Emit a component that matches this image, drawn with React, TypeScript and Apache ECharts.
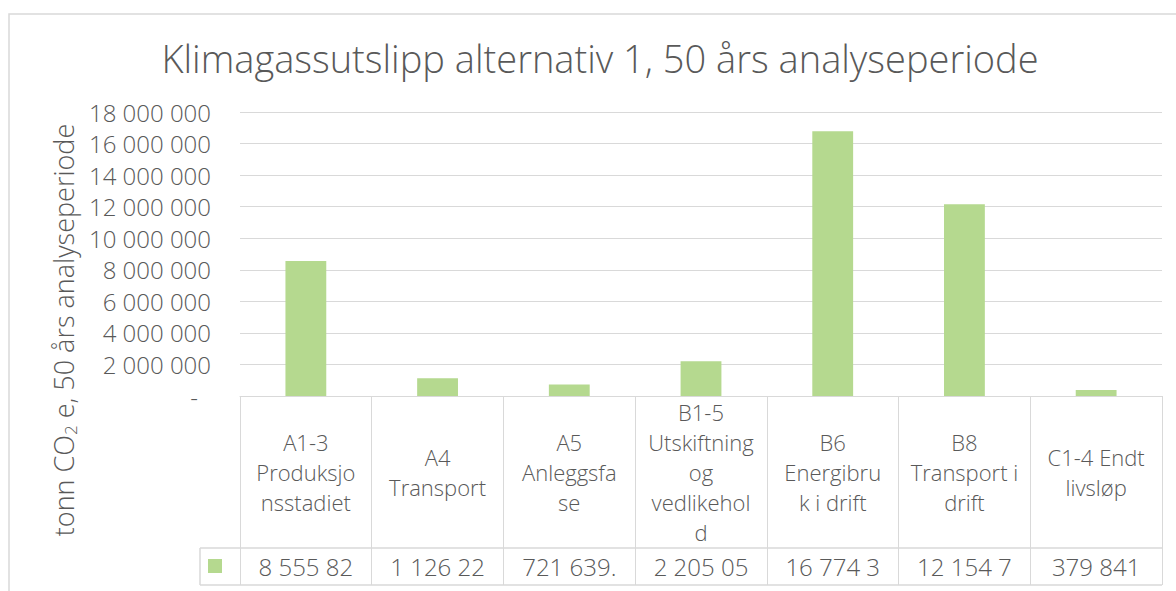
import React, { useEffect, useRef } from "react";
import * as echarts from "echarts";

const title = "Klimagassutslipp alternativ 1, 50 års analyseperiode";
const categories = [
  "A1-3 Produksjonsstadiet",
  "A4 Transport",
  "A5 Anleggsfase",
  "B1-5 Utskiftning og vedlikehold",
  "B6 Energibruk i drift",
  "B8 Transport i drift",
  "C1-4 Endt livsløp",
];
// wrapped as shown in the reference table header
const categoryLabels = [
  "A1-3\nProduksjo\nnsstadiet",
  "A4\nTransport",
  "A5\nAnleggsfa\nse",
  "B1-5\nUtskiftning\nog\nvedlikehol\nd",
  "B6\nEnergibru\nk i drift",
  "B8\nTransport i\ndrift",
  "C1-4 Endt\nlivsløp",
];
const values = [8555824.6, 1126224.3, 721639.4, 2205051.8, 16774320.5, 12154730.2, 379841];
const yTicks = [0, 2000000, 4000000, 6000000, 8000000, 10000000, 12000000, 14000000, 16000000, 18000000];

const BAR = "#b5d98f";
const GRIDC = "#d9d9d9";
const TXT = "#595959";
const FONT = "'Open Sans', 'Noto Sans', sans-serif";
const FW = 300;

const W = 1176;
const H = 591;
const GL = 240; // plot left
const GR = 1162; // plot right
const GT = 112; // plot top
const GB = 396; // plot bottom / table top
const ROW1 = 548; // header row bottom
const ROW2 = 585; // value row bottom
const LEGX = 200; // legend cell left

function spaced(v: number): string {
  const neg = v < 0;
  const a = Math.abs(v);
  const ip = Math.floor(a);
  const frac = a - ip;
  let s = String(ip).replace(/\B(?=(\d{3})+(?!\d))/g, " ");
  if (frac > 1e-9) {
    s += "." + frac.toFixed(6).slice(2).replace(/0+$/, "");
  }
  return (neg ? "-" : "") + s;
}

export default function App() {
  const ref = useRef<HTMLDivElement>(null);
  useEffect(() => {
    if (!ref.current) return;
    const chart = echarts.init(ref.current, null, { renderer: "svg" });
    const step = yTicks[1] - yTicks[0];
    chart.setOption({
      animation: false,
      backgroundColor: "#ffffff",
      textStyle: { fontFamily: FONT, color: TXT, fontWeight: FW },
      grid: { left: GL, right: W - GR, top: GT, bottom: H - GB, containLabel: false },
      xAxis: [
        {
          type: "category",
          data: categories,
          position: "bottom",
          axisLine: { show: true, lineStyle: { color: GRIDC, width: 1 } },
          axisTick: { show: true, length: ROW2 - GB, lineStyle: { color: GRIDC, width: 1 } },
          axisLabel: {
            interval: 0,
            margin: (ROW1 - GB) / 2,
            verticalAlign: "middle",
            align: "center",
            fontSize: 22,
            lineHeight: 30,
            color: TXT,
            fontFamily: FONT,
            fontWeight: FW,
            formatter: (_v: string, i: number) => categoryLabels[i],
          },
          splitLine: { show: false },
        },
        {
          type: "category",
          data: values.map(spaced),
          position: "bottom",
          axisLine: { show: false },
          axisTick: { show: false },
          axisLabel: {
            interval: 0,
            margin: (ROW1 + ROW2) / 2 - GB,
            verticalAlign: "middle",
            align: "center",
            fontSize: 24,
            color: TXT,
            fontFamily: FONT,
            fontWeight: FW,
            width: 100,
            overflow: "truncate",
            ellipsis: "",
          },
        },
      ],
      yAxis: {
        type: "value",
        min: yTicks[0],
        max: yTicks[yTicks.length - 1],
        interval: step,
        axisLine: { show: false },
        axisTick: { show: false },
        splitLine: { show: true, lineStyle: { color: GRIDC, width: 1 } },
        axisLabel: {
          margin: 29,
          fontSize: 24,
          color: TXT,
          fontFamily: FONT,
          fontWeight: FW,
          formatter: (v: number) => (v === 0 ? "{z|-}" : spaced(v)),
          rich: { z: { fontSize: 24, color: TXT, fontFamily: FONT, fontWeight: FW, padding: [0, 13, 0, 0] } },
        },
      },
      series: [
        {
          type: "bar",
          xAxisIndex: 0,
          data: values,
          barWidth: "31%",
          itemStyle: { color: BAR },
        },
      ],
      graphic: [
        {
          type: "rect",
          shape: { x: 9, y: 14, width: 1300, height: 700 },
          style: { fill: "none", stroke: GRIDC, lineWidth: 1.5 },
          z: -1,
          silent: true,
        },
        {
          type: "text",
          x: 600,
          y: 58,
          style: {
            text: title,
            fontSize: 38,
            fontWeight: FW,
            fill: TXT,
            fontFamily: FONT,
            align: "center",
            verticalAlign: "middle",
          },
        },
        {
          type: "text",
          x: 63,
          y: 330,
          rotation: Math.PI / 2,
          style: {
            text: "{a|tonn CO}{s|2}{a| e, 50 års analyseperiode}",
            align: "center",
            verticalAlign: "middle",
            fill: TXT,
            fontFamily: FONT,
            rich: {
              a: { fontSize: 27, fontWeight: FW, lineHeight: 32, fill: TXT, fontFamily: FONT, verticalAlign: "middle" },
              s: { fontSize: 17, fontWeight: FW, lineHeight: 32, fill: TXT, fontFamily: FONT, verticalAlign: "bottom" },
            },
          },
        },
        {
          type: "line",
          shape: { x1: LEGX, y1: ROW1, x2: GR, y2: ROW1 },
          style: { stroke: GRIDC, lineWidth: 1.5 },
        },
        {
          type: "line",
          shape: { x1: LEGX, y1: ROW2, x2: GR, y2: ROW2 },
          style: { stroke: GRIDC, lineWidth: 1.5 },
        },
        {
          type: "line",
          shape: { x1: LEGX, y1: ROW1, x2: LEGX, y2: ROW2 },
          style: { stroke: GRIDC, lineWidth: 1.5 },
        },
        {
          type: "rect",
          shape: { x: 208, y: 559, width: 14, height: 14 },
          style: { fill: BAR },
        },
      ],
    });
    return () => chart.dispose();
  }, []);
  return (
    <div
      ref={ref}
      style={{ position: "fixed", left: 0, top: 0, width: W, height: H, background: "#fff" }}
    />
  );
}
